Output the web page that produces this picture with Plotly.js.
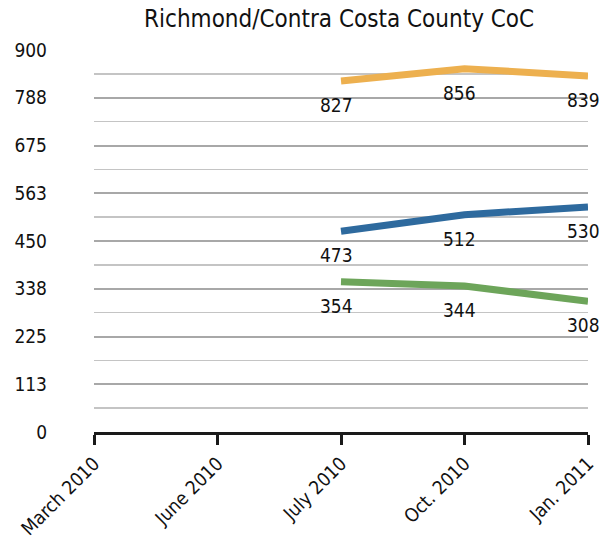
<!DOCTYPE html>
<html>
<head>
<meta charset="utf-8">
<script src="https://cdn.plot.ly/plotly-3.0.1.min.js"></script>
<style>
  html, body { margin: 0; padding: 0; background: #fff; }
  #chart { width: 611px; height: 550px; }
</style>
</head>
<body>
<div id="chart"></div>
<script>
// Periods shown on the x axis
const periods = ["March 2010", "June 2010", "July 2010", "Oct. 2010", "Jan. 2011"];

// Three series, reported from July 2010 onward
const seriesPeriods = ["July 2010", "Oct. 2010", "Jan. 2011"];
const orangeValues = [827, 856, 839];
const blueValues = [473, 512, 530];
const greenValues = [354, 344, 308];

// Y axis ticks (eighths of 900) and their printed labels
const yTickValues = [0, 112.5, 225, 337.5, 450, 562.5, 675, 787.5, 900];
const yTickLabels = ["0", "113", "225", "338", "450", "563", "675", "788", "900"];

const FONT = '"Liberation Sans Narrow", "DejaVu Sans Condensed", "Arial Narrow", sans-serif';

const seriesList = [
  { values: orangeValues, color: "#EDB04F" },
  { values: blueValues, color: "#2E6A9E" },
  { values: greenValues, color: "#6DA55A" }
];

const traces = seriesList.map(s => ({
  type: "scatter",
  mode: "lines",
  x: seriesPeriods,
  y: s.values,
  line: { color: s.color, width: 7 },
  hoverinfo: "x+y",
  showlegend: false,
  cliponaxis: false
}));

// Value labels sit just under each point
const annotations = [];
seriesList.forEach(s => {
  s.values.forEach((v, i) => {
    annotations.push({
      x: seriesPeriods[i],
      y: v,
      xref: "x",
      yref: "y",
      text: String(v),
      showarrow: false,
      yshift: -24,
      xshift: -5,
      font: { family: FONT, size: 19, color: "#111" }
    });
  });
});

const layout = {
  width: 611,
  height: 550,
  margin: { l: 94, r: 23, t: 50, b: 118 },
  paper_bgcolor: "#fff",
  plot_bgcolor: "#fff",
  font: { family: FONT, size: 19, color: "#111" },
  title: {
    text: "Richmond/Contra Costa County CoC",
    font: { family: FONT, size: 24, color: "#111" },
    x: 0.555,
    xanchor: "center",
    y: 0.966,
    yanchor: "middle"
  },
  xaxis: {
    type: "category",
    categoryorder: "array",
    categoryarray: periods,
    tickvals: periods,
    range: [0, periods.length - 1],
    showgrid: false,
    zeroline: false,
    showline: true,
    linecolor: "#1a1a1a",
    linewidth: 3,
    ticks: "outside",
    ticklen: 10,
    tickwidth: 3,
    tickcolor: "#1a1a1a",
    tickangle: -45,
    tickfont: { family: FONT, size: 19, color: "#111" },
    fixedrange: true
  },
  yaxis: {
    range: [0, 900],
    tickmode: "array",
    tickvals: yTickValues,
    ticktext: yTickLabels,
    showgrid: true,
    gridcolor: "#a8a8a8",
    gridwidth: 2,
    zeroline: false,
    showline: false,
    ticks: "",
    ticklabelstandoff: 46,
    tickfont: { family: FONT, size: 19, color: "#111" },
    minor: {
      tickmode: "linear",
      tick0: 0,
      dtick: 56.25,
      showgrid: true,
      gridcolor: "#c4c4c4",
      gridwidth: 1.5
    },
    fixedrange: true
  },
  annotations: annotations
};

Plotly.newPlot("chart", traces, layout, { displayModeBar: false, staticPlot: true });
</script>
</body>
</html>
